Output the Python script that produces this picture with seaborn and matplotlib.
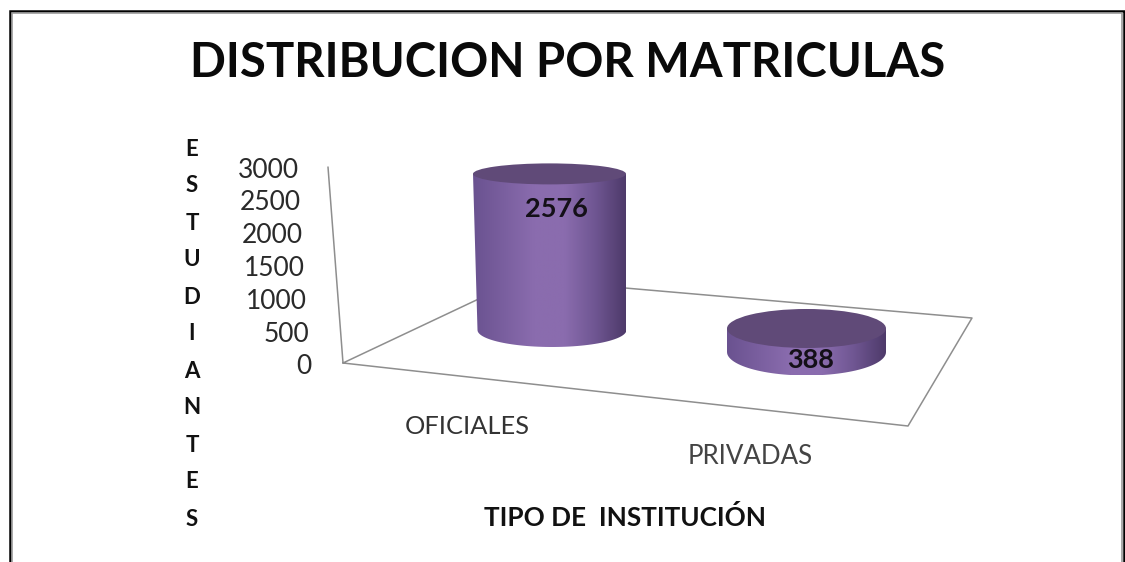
import numpy as np
import seaborn as sns
import matplotlib.pyplot as plt
from matplotlib.colors import LinearSegmentedColormap
from matplotlib.patches import Ellipse, PathPatch
from matplotlib.path import Path

# Data
categorias = ['OFICIALES', 'PRIVADAS']
valores = [2576, 388]
ticks = [0, 500, 1000, 1500, 2000, 2500, 3000]
letras_eje = list('ESTUDIANTES')
titulo = 'DISTRIBUCION POR MATRICULAS'
titulo_x = 'TIPO DE  INSTITUCIÓN'

sns.set_theme(style='white')
plt.rcParams['font.family'] = ['Lato', 'DejaVu Sans']

W, H = 1125, 562
PX_POR_UNIDAD = 0.0606   # pixels per student on the cylinders
BASE_PX = 330            # pixel row of the first cylinder's base

fig = plt.figure(figsize=(W / 100, H / 100), dpi=100)

# Background axes in pixels, for the floor, frame and text
fondo = fig.add_axes([0, 0, 1, 1])
fondo.set_xlim(0, W)
fondo.set_ylim(H, 0)
fondo.axis('off')

# Outer frame, open at the bottom
fondo.plot([9.8, 9.8, 1123.5, 1123.5], [H, 10.5, 10.5, H], color='black', lw=1.8, solid_joinstyle='miter')
fondo.plot([12, 12, 1121.5, 1121.5], [H, 12.5, 12.5, H], color='#9a9a9a', lw=1.2, solid_joinstyle='miter')

# Floor and leaning axis
gris = '#8e8e8e'
fondo.plot([328, 343, 908, 972, 521, 343], [167, 363, 426, 318, 279, 363], color=gris, lw=1.1)

# Value ticks run along the leaning axis
for t in ticks:
    f = t / max(ticks)
    fondo.text(311.5 - 12.5 * f, 367 - 197 * f, str(t), ha='right', va='center', fontsize=19, color='#2a2a2a')

for i, letra in enumerate(letras_eje):
    fondo.text(192, 149 + 37 * i, letra, ha='center', va='center', fontsize=16, fontweight='bold', color='#111111')

fondo.text(567.5, 63, titulo, ha='center', va='center', fontsize=34, fontweight='bold', color='#0a0a0a')
fondo.text(625, 518, titulo_x, ha='center', va='center', fontsize=18.8, fontweight='bold', color='#111111')
fondo.text(467.5, 426, categorias[0], ha='center', va='center', fontsize=18.3, color='#333333')
fondo.text(750.5, 457, categorias[1], ha='center', va='center', fontsize=18.6, color='#444444')

# Bars axes: same area, y in students, categories spaced 255 px apart
barras = fig.add_axes([0, 0, 1, 1], facecolor='none')
sns.barplot(x=categorias, y=valores, width=0.6, color='#7a5fa0', saturation=1, ax=barras)
barras.axis('off')

cmap = LinearSegmentedColormap.from_list('cil', ['#6a5290', '#7a5f9f', '#8a6cae', '#8a6cae', '#6f5692', '#4e3a6a'])
gradiente = np.linspace(0, 1, 256).reshape(1, -1)

# Per-cylinder look, all in px: base shift, widths, centre offsets, ellipse half heights
desplazamiento = [0, 22]
ancho_sup = [153, 159]
ancho_inf = [149, 159]
dx_sup = [-1.5, 0.5]
dx_inf = [1, 0.5]
semi_sup = [10.5, 19.5]
semi_inf = [17, 23.5]
etiqueta_dy = [35, 32]   # label distance below the top of each cylinder
etiqueta_dx = [5, 4.5]

for i, barra in enumerate(list(barras.patches)[:2]):
    cx = barra.get_x() + barra.get_width() / 2
    v = barra.get_height()
    y0 = -desplazamiento[i] / PX_POR_UNIDAD
    y1 = y0 + v
    si = semi_inf[i] / PX_POR_UNIDAD
    ss = semi_sup[i] / PX_POR_UNIDAD
    cs = cx + dx_sup[i] / 255
    ci = cx + dx_inf[i] / 255
    ws = ancho_sup[i] / 255
    wi = ancho_inf[i] / 255
    barra.set_visible(False)

    # body: side walls plus lower half of the base ellipse
    ang = np.linspace(np.pi, 2 * np.pi, 60)
    xs = np.r_[cs - ws / 2, ci + wi / 2 * np.cos(ang), cs + ws / 2]
    ys = np.r_[y1, y0 + si * np.sin(ang), y1]
    cuerpo = PathPatch(Path(np.c_[xs, ys]), transform=barras.transData, fc='none', ec='none')
    barras.add_patch(cuerpo)
    img = barras.imshow(gradiente, cmap=cmap, aspect='auto', zorder=2,
                        extent=[cs - ws / 2, cs + ws / 2, y0 - si, y1])
    img.set_clip_path(cuerpo)

    barras.add_patch(Ellipse((cs, y1), ws, 2 * ss, fc='#604a78', ec='none', zorder=3))
    barras.text(cx + etiqueta_dx[i] / 255, y1 - etiqueta_dy[i] / PX_POR_UNIDAD, str(valores[i]),
                ha='center', va='center', fontsize=19.5, fontweight='bold', color='#141018', zorder=4)

barras.set_xlim(-551 / 255, (W - 551) / 255)
barras.set_ylim((BASE_PX - H) / PX_POR_UNIDAD, BASE_PX / PX_POR_UNIDAD)

plt.savefig('out.png', dpi=100)
plt.close()
